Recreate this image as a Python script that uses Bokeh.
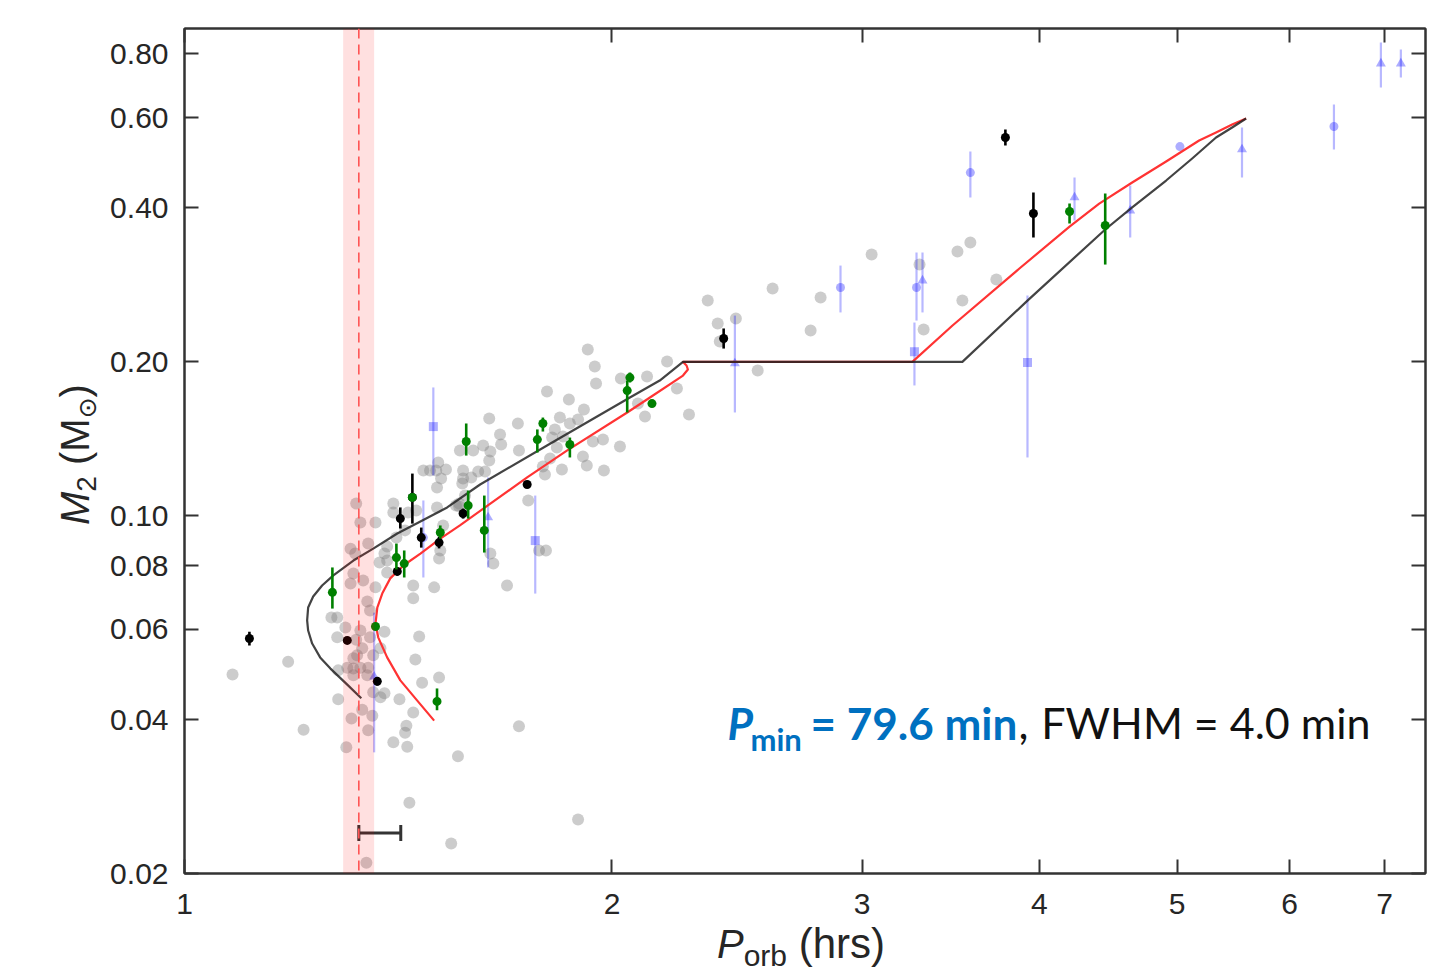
from math import pi
from bokeh.plotting import figure
from bokeh.models import (Range1d, LogAxis, FixedTicker, NumeralTickFormatter, CustomJSTickFormatter,
                          BoxAnnotation, Span, Label, Whisker, ColumnDataSource, TeeHead, Div)
from bokeh.layouts import row, column
from bokeh.embed import file_html
from bokeh.resources import INLINE

# ---------------- data (P in hours, M2 in solar masses) ----------------
pmin_minutes = 79.6
fwhm_minutes = 4.0
bar_p_end_minutes = 85.2
bar_m = 0.024

x_ticks = [1, 2, 3, 4, 5, 6, 7]
y_ticks = [0.02, 0.04, 0.06, 0.08, 0.10, 0.20, 0.40, 0.60, 0.80]

gray_P = [1.081, 1.183, 1.213, 1.269, 1.281, 1.281, 1.298, 1.283, 1.302, 1.315, 1.315, 1.330, 1.347,
          1.345, 1.358, 1.315, 1.283, 1.334, 1.311, 1.356, 1.347, 1.300, 1.358, 1.374, 1.383, 1.417,
          1.449, 1.433, 1.430, 1.403, 1.435, 1.454, 1.463, 1.511, 1.470, 1.449, 1.449, 1.499, 1.389,
          1.558, 1.440, 1.541, 1.343, 1.720, 1.893, 1.309, 1.315, 1.330, 1.334, 1.336, 1.345, 1.351,
          1.351, 1.363, 1.383, 1.374, 1.321, 1.330, 1.309, 1.319, 1.347, 1.363, 1.321, 1.323, 1.389,
          1.383, 1.372, 1.389, 1.410, 1.403, 1.430, 1.456, 1.511, 1.514, 1.569, 1.561, 1.403, 1.923,
          1.945, 1.949, 1.800, 1.865, 1.911, 2.026, 1.974, 1.920, 1.908, 1.971, 1.939, 1.893, 1.868,
          1.838, 1.823, 1.847, 1.815, 1.829, 1.809, 1.788, 1.844, 1.794, 1.746, 1.777, 1.797, 1.687,
          1.717, 1.720, 1.668, 1.671, 1.639, 1.623, 1.642, 1.639, 1.628, 1.610, 1.597, 1.571, 1.592,
          1.571, 1.561, 1.553, 1.576, 1.528, 1.504, 1.489, 1.473, 1.516, 1.506, 1.521, 1.506, 1.563,
          1.509, 1.650, 1.642, 1.437, 2.029, 2.117, 2.110, 2.086, 2.222, 2.266, 2.187, 2.336, 2.374,
          2.382, 2.445, 2.533, 2.595, 2.760, 2.805, 3.047, 3.293, 3.315, 3.502, 3.576, 3.530, 3.730]
gray_M = [0.0490, 0.0519, 0.0382, 0.0633, 0.0633, 0.0579, 0.0605, 0.0499, 0.0505, 0.0527, 0.0503, 0.0505, 0.0505,
          0.0488, 0.0534, 0.0488, 0.0438, 0.0418, 0.0402, 0.0407, 0.0381, 0.0353, 0.0452, 0.0442, 0.0450, 0.0438,
          0.0413, 0.0389, 0.0377, 0.0361, 0.0354, 0.0524, 0.0581, 0.0483, 0.0472, 0.0690, 0.0731, 0.0725, 0.0818,
          0.0339, 0.0275, 0.0229, 0.0210, 0.0388, 0.0255, 0.0738, 0.0772, 0.0597, 0.0551, 0.0748, 0.0680, 0.0653,
          0.0579, 0.0725, 0.0594, 0.0551, 0.1057, 0.0971, 0.0863, 0.0844, 0.0883, 0.0971, 0.0573, 0.0534, 0.0871,
          0.0844, 0.0811, 0.0775, 0.0907, 0.1057, 0.0937, 0.1025, 0.0826, 0.0856, 0.1157, 0.1044, 0.1015, 0.2114,
          0.1959, 0.1815, 0.1751, 0.1689, 0.1614, 0.1367, 0.1227, 0.1255, 0.1307, 0.1410, 0.1398, 0.1543, 0.1516,
          0.1557, 0.1476, 0.1430, 0.1423, 0.1360, 0.1295, 0.1249, 0.1233, 0.1205, 0.1072, 0.0856, 0.0856, 0.0731,
          0.1516, 0.1342, 0.1443, 0.1379, 0.1550, 0.1373, 0.1336, 0.1283, 0.1221, 0.1221, 0.1342, 0.1227, 0.1189,
          0.1183, 0.1057, 0.1048, 0.1096, 0.1233, 0.1227, 0.1227, 0.1227, 0.1183, 0.1136, 0.0958, 0.1039, 0.1342,
          0.1272, 0.0807, 0.0844, 0.1015, 0.1856, 0.1873, 0.1564, 0.1658, 0.1774, 0.1578, 0.2004, 0.2636, 0.2378,
          0.2192, 0.2432, 0.1924, 0.2784, 0.2303, 0.2672, 0.3244, 0.3100, 0.2314, 0.3287, 0.3423, 0.2636, 0.2897]

black_P = [1.111, 1.302, 1.367, 1.412, 1.419, 1.447, 1.468, 1.511, 1.571, 1.743, 2.397, 3.785, 3.961]
black_M = [0.0576, 0.0571, 0.0475, 0.0779, 0.0988, 0.1087, 0.0907, 0.0887, 0.1011, 0.1152, 0.2222, 0.5492, 0.3901]
black_lo = [0.0558, 0.0571, 0.0466, 0.0765, 0.0945, 0.0966, 0.0867, 0.0864, 0.0988, 0.1152, 0.2124, 0.5297, 0.3502]
black_hi = [0.0594, 0.0571, 0.0483, 0.0793, 0.1039, 0.1210, 0.0949, 0.0911, 0.1034, 0.1152, 0.2325, 0.5694, 0.4287]

green_P = [1.271, 1.363, 1.410, 1.428, 1.447, 1.514, 1.584, 1.506, 1.579, 1.626, 1.772, 1.788, 1.868,
           2.050, 2.059, 2.134, 4.200, 4.450]
green_M = [0.0709, 0.0608, 0.0829, 0.0807, 0.1087, 0.0928, 0.1048, 0.0434, 0.1398, 0.0937, 0.1410, 0.1516,
           0.1379, 0.1758, 0.1864, 0.1658, 0.3936, 0.3695]
green_lo = [0.0659, 0.0608, 0.0786, 0.0758, 0.1087, 0.0903, 0.0988, 0.0417, 0.1312, 0.0848, 0.1330, 0.1462,
            0.1301, 0.1593, 0.1823, 0.1658, 0.3729, 0.3100]
green_hi = [0.0793, 0.0608, 0.0883, 0.0856, 0.1087, 0.0958, 0.1121, 0.0460, 0.1516, 0.1096, 0.1476, 0.1557,
            0.1423, 0.1839, 0.1907, 0.1658, 0.4079, 0.4267]

blue_sq_P = [1.497, 1.766, 3.266, 3.923]
blue_sq_M = [0.1495, 0.0895, 0.2094, 0.1995]
blue_sq_lo = [0.1200, 0.0705, 0.1799, 0.1301]
blue_sq_hi = [0.1783, 0.1096, 0.2388, 0.2697]

blue_ci_P = [1.473, 2.897, 3.277, 3.576, 5.023, 6.448]
blue_ci_M = [0.0907, 0.2796, 0.2796, 0.4690, 0.5272, 0.5770]
blue_ci_lo = [0.0758, 0.2499, 0.2409, 0.4193, 0.5272, 0.5204]
blue_ci_hi = [0.1072, 0.3086, 0.3272, 0.5156, 0.5272, 0.6370]

blue_tr_P = [1.360, 1.636, 2.441, 3.309, 4.234, 4.634, 5.555, 6.958, 7.187]
blue_tr_M = [0.0485, 0.0993, 0.1986, 0.2884, 0.4193, 0.3954, 0.5204, 0.7662, 0.7662]
blue_tr_lo = [0.0345, 0.0793, 0.1593, 0.2499, 0.3780, 0.3502, 0.4585, 0.6878, 0.7194]
blue_tr_hi = [0.0647, 0.1189, 0.2464, 0.3272, 0.4585, 0.4424, 0.5744, 0.8422, 0.8158]

black_track_P = [1.332, 1.302, 1.267, 1.246, 1.230, 1.222, 1.220, 1.222, 1.232, 1.250, 1.273, 1.315, 1.358,
                 1.412, 1.466, 1.531, 1.615, 1.800, 2.059, 2.161, 2.244, 3.530, 3.923, 4.450, 4.649, 4.912,
                 5.124, 5.326, 5.467, 5.592]
black_track_M = [0.0440, 0.0468, 0.0503, 0.0529, 0.0563, 0.0597, 0.0625, 0.0662, 0.0696, 0.0731, 0.0765, 0.0818,
                 0.0863, 0.0924, 0.0975, 0.1039, 0.1152, 0.1373, 0.1704, 0.1839, 0.2000, 0.2000, 0.2636, 0.3630,
                 0.4009, 0.4525, 0.4996, 0.5492, 0.5744, 0.5982]

red_track_P = [1.499, 1.458, 1.419, 1.389, 1.369, 1.363, 1.367, 1.378, 1.396, 1.426, 1.466, 1.514, 1.563,
               1.628, 1.743, 1.859, 2.050, 2.127, 2.244, 2.262, 2.257, 2.244, 3.255, 3.474, 3.872, 4.200,
               4.407, 4.649, 4.912, 5.182, 5.326, 5.467, 5.592]
red_track_M = [0.0398, 0.0436, 0.0477, 0.0529, 0.0579, 0.0616, 0.0662, 0.0705, 0.0755, 0.0800, 0.0844, 0.0903,
               0.0958, 0.1039, 0.1189, 0.1342, 0.1593, 0.1704, 0.1881, 0.1933, 0.1968, 0.2000, 0.2000, 0.2356,
               0.3045, 0.3678, 0.4079, 0.4484, 0.4930, 0.5419, 0.5616, 0.5821, 0.5982]

# ---------------- figure ----------------
pmin_h = pmin_minutes / 60.0
fwhm_h = fwhm_minutes / 60.0

YLAB_W = 100
FIG_W = 1447 - YLAB_W
FIG_H = 930
XLAB_H = 980 - FIG_H

p = figure(width=FIG_W, height=FIG_H, x_axis_type="log", y_axis_type="log",
           x_range=Range1d(1.0, 7.48), y_range=Range1d(0.02, 0.897),
           output_backend="svg", toolbar_location=None,
           min_border_left=184 - YLAB_W, min_border_right=22, min_border_top=28,
           min_border_bottom=FIG_H - 873)
p.grid.visible = False
p.outline_line_color = "#333333"
p.outline_line_width = 2
p.background_fill_color = "white"
p.border_fill_color = "white"

p.add_layout(LogAxis(), "above")
p.add_layout(LogAxis(), "right")

AX = "#333333"
for ax in p.xaxis:
    ax.ticker = FixedTicker(ticks=x_ticks, minor_ticks=[])
    ax.formatter = NumeralTickFormatter(format="0")
for ax in p.yaxis:
    ax.ticker = FixedTicker(ticks=y_ticks, minor_ticks=[])
    ax.formatter = NumeralTickFormatter(format="0.00")
for ax in p.xaxis + p.yaxis:
    ax.major_tick_in = 14
    ax.major_tick_out = 0
    ax.minor_tick_in = 0
    ax.minor_tick_out = 0
    ax.axis_line_color = AX
    ax.axis_line_width = 2
    ax.major_tick_line_color = AX
    ax.major_tick_line_width = 2
    ax.major_label_text_font = "Liberation Sans"
    ax.major_label_text_font_size = "30px"
    ax.major_label_text_color = "#262626"
p.below[0].major_label_standoff = 20
p.left[0].major_label_standoff = 16
for ax in (p.above[0], p.right[0]):
    ax.formatter = CustomJSTickFormatter(code="return ''")
    ax.major_label_text_color = None
    ax.major_label_text_font_size = "1px"
    ax.major_label_standoff = 0

# band & dashed line at P_min
p.add_layout(BoxAnnotation(left=pmin_h - fwhm_h / 2, right=pmin_h + fwhm_h / 2,
                           fill_color="#ff0000", fill_alpha=0.12, line_color=None))
p.add_layout(Span(location=pmin_h, dimension="height", line_color="#ff5555",
                  line_width=1.6, line_dash="10 6"))

# gray population
p.scatter(gray_P, gray_M, size=12, fill_color="#808080", fill_alpha=0.4, line_color=None)

# blue points
BL = "#0000ff"
for P_, M_, lo_, hi_, mk, sz in ((blue_sq_P, blue_sq_M, blue_sq_lo, blue_sq_hi, "square", 9),
                                 (blue_ci_P, blue_ci_M, blue_ci_lo, blue_ci_hi, "circle", 9),
                                 (blue_tr_P, blue_tr_M, blue_tr_lo, blue_tr_hi, "triangle", 10)):
    p.segment(x0=P_, y0=lo_, x1=P_, y1=hi_, line_color=BL, line_alpha=0.28, line_width=2.2)
    p.scatter(P_, M_, marker=mk, size=sz, fill_color=BL, fill_alpha=0.32, line_color=None)

# tracks
p.line(red_track_P, red_track_M, line_color="#ff3333", line_width=2.2, line_join="round")
p.line(black_track_P, black_track_M, line_color="#222222", line_alpha=0.85, line_width=2.2, line_join="round")

# black points
p.segment(x0=black_P, y0=black_lo, x1=black_P, y1=black_hi, line_color="black", line_width=2.6)
p.scatter(black_P, black_M, size=9, fill_color="black", line_color=None)

# green points
p.segment(x0=green_P, y0=green_lo, x1=green_P, y1=green_hi, line_color="#008000", line_width=2.6)
p.scatter(green_P, green_M, size=9, fill_color="#008000", line_color=None)

# horizontal bar at the bottom
bar_src = ColumnDataSource(dict(base=[bar_m], lower=[pmin_h], upper=[bar_p_end_minutes / 60.0]))
p.add_layout(Whisker(source=bar_src, base="base", lower="lower", upper="upper", dimension="width",
                     line_color="#333333", line_width=3,
                     lower_head=TeeHead(size=16, line_color="#333333", line_width=3),
                     upper_head=TeeHead(size=16, line_color="#333333", line_width=3)))


def lab(text, x, y, size, style="normal", color="#262626", font="Lato", align="left"):
    p.add_layout(Label(x=x, y=y, x_units="screen", y_units="screen", text=text, text_font=font,
                       text_font_size=f"{size}px", text_font_style=style, text_color=color,
                       text_align=align, text_baseline="alphabetic"))


# annotation
BLUE_TXT = "#0070c0"
lab("P", 543, 151, 44, "bold italic", BLUE_TXT)
lab("min", 566, 135, 31, "bold", BLUE_TXT)
lab("= 79.6 min", 626, 151, 44, "bold", BLUE_TXT)
lab(",", 834, 151, 44, "normal", "#111111")
lab("FWHM = 4.0 min", 1186, 151, 43, "normal", "#111111", align="right")

# axis titles as HTML text (italic symbols with subscripts)
FONT = "font-family:'Liberation Sans',Arial,sans-serif; color:#262626;"
xlab_html = (
    f"<div style=\"{FONT} font-size:40px; line-height:28px; white-space:nowrap; "
    f"padding-left:{717 - YLAB_W}px; margin:0;\">"
    "<i>P</i><span style=\"font-size:30px; vertical-align:-8px; line-height:0;\">orb</span>"
    "<span style=\"font-size:42px;\"> (hrs)</span></div>"
)
ylab_html = (
    f"<div style=\"{FONT} font-size:40px; line-height:40px; white-space:nowrap; display:block; "
    "width:max-content; transform-origin:0 0; transform:translate(55px, 525px) rotate(-90deg); margin:0;\">"
    "<i>M</i><span style=\"font-size:28px; vertical-align:-7px; line-height:0;\">2</span>"
    " (M<span style=\"font-family:'DejaVu Sans'; font-size:25px; vertical-align:-7px; line-height:0;\">"
    "\u2299</span>)</div>"
)
xdiv = Div(text=xlab_html, width=FIG_W, height=XLAB_H, margin=0)
ydiv = Div(text=ylab_html, width=YLAB_W, height=980, margin=0)

layout = row(ydiv, column(p, xdiv, spacing=0), spacing=0)

open("out.html", "w").write(file_html(layout, INLINE))
